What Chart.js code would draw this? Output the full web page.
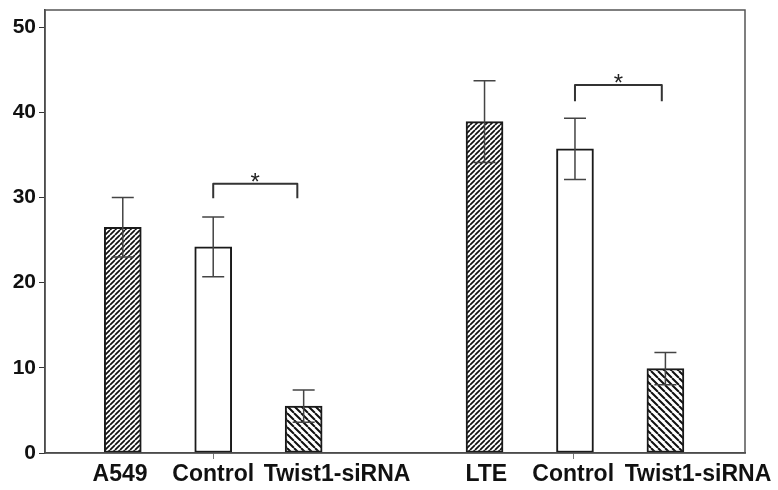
<!DOCTYPE html>
<html>
<head>
<meta charset="utf-8">
<script src="https://cdn.jsdelivr.net/npm/chart.js@4.4.1/dist/chart.umd.min.js"></script>
<style>
  html, body { margin: 0; padding: 0; background: #fff; }
  #wrap { width: 778px; height: 490px; }
</style>
</head>
<body>
<div id="wrap"><canvas id="chart" width="778" height="490"></canvas></div>
<script>
  // valores
  const barPos = [1, 2, 3, 5, 6, 7];
  const barValues = [26.5, 24.2, 5.5, 38.9, 35.7, 9.9];
  const barErrors = [3.5, 3.5, 1.9, 4.8, 3.6, 1.9];
  const barFill = ['dense', 'open', 'sparse', 'dense', 'open', 'sparse'];

  const xLabels = ['A549', 'Control', 'Twist1-siRNA', 'LTE', 'Control', 'Twist1-siRNA'];
  const xLabelPos = [0.97, 2, 3.37, 5.02, 5.98, 7.36];
  const yTicks = [0, 10, 20, 30, 40, 50];

  // colchetes de significância (coordenadas em unidades dos eixos)
  const brackets = [
    { from: 2, to: 2.93, top: 31.6, leg: 29.9, mark: '*' },
    { from: 6, to: 6.96, top: 43.2, leg: 41.3, mark: '*' }
  ];

  const FONT = '"Liberation Sans", Arial, sans-serif';

  function hatch(period, lw, dir) {
    const c = document.createElement('canvas');
    c.width = period; c.height = period;
    const g = c.getContext('2d');
    g.fillStyle = '#fff';
    g.fillRect(0, 0, period, period);
    g.strokeStyle = '#111';
    g.lineWidth = lw;
    g.beginPath();
    for (let k = -1; k <= 1; k++) {
      if (dir === '/') {
        g.moveTo(k * period, period);
        g.lineTo(k * period + period, 0);
      } else {
        g.moveTo(k * period, 0);
        g.lineTo(k * period + period, period);
      }
    }
    g.stroke();
    return g.createPattern(c, 'repeat');
  }

  const ctx = document.getElementById('chart').getContext('2d');
  const fills = {
    dense: hatch(5, 1.7, '/'),
    sparse: hatch(7, 2, '\\'),
    open: '#fff'
  };

  const overlay = {
    id: 'overlay',
    afterDatasetsDraw(chart) {
      const { ctx: c, chartArea: a, scales: { x, y } } = chart;
      c.save();
      // moldura
      c.strokeStyle = '#555';
      c.lineWidth = 1.5;
      c.strokeRect(a.left, a.top, a.right - a.left, a.bottom - a.top);

      // barras de erro
      c.strokeStyle = '#444';
      c.lineWidth = 1.5;
      barPos.forEach((p, i) => {
        const px = x.getPixelForValue(p);
        const yt = y.getPixelForValue(barValues[i] + barErrors[i]);
        const yb = y.getPixelForValue(barValues[i] - barErrors[i]);
        c.beginPath();
        c.moveTo(px, yt); c.lineTo(px, yb);
        c.moveTo(px - 11, yt); c.lineTo(px + 11, yt);
        c.moveTo(px - 11, yb); c.lineTo(px + 11, yb);
        c.stroke();
      });

      // colchetes
      c.strokeStyle = '#333';
      c.lineWidth = 2;
      c.lineJoin = 'round';
      c.fillStyle = '#222';
      c.font = '24px ' + FONT;
      c.textAlign = 'center';
      c.textBaseline = 'alphabetic';
      brackets.forEach(b => {
        const x1 = x.getPixelForValue(b.from), x2 = x.getPixelForValue(b.to);
        const yt = y.getPixelForValue(b.top), yl = y.getPixelForValue(b.leg);
        c.beginPath();
        c.moveTo(x1, yl); c.lineTo(x1, yt); c.lineTo(x2, yt); c.lineTo(x2, yl);
        c.stroke();
        c.fillText(b.mark, (x1 + x2) / 2, yt + 6);
      });
      c.restore();
    }
  };

  new Chart(ctx, {
    type: 'bar',
    data: {
      datasets: [{
        data: barPos.map((p, i) => ({ x: p, y: barValues[i] })),
        backgroundColor: barFill.map(f => fills[f]),
        borderColor: '#1a1a1a',
        borderWidth: 2,
        borderSkipped: false,
        barThickness: 37
      }]
    },
    options: {
      responsive: false,
      animation: false,
      events: [],
      layout: { padding: { top: 10, right: 33, left: 0, bottom: 0 } },
      plugins: { legend: { display: false }, tooltip: { enabled: false } },
      scales: {
        x: {
          type: 'linear',
          offset: false,
          min: 0.14,
          max: 7.88,
          afterBuildTicks: s => { s.ticks = xLabelPos.map(v => ({ value: v })); },
          afterFit: s => { s.height = 37; },
          border: { display: true, color: '#333', width: 1.5 },
          grid: {
            offset: false,
            drawOnChartArea: false,
            tickLength: 6,
            tickColor: c => (xLabels[c.index] === 'Control' ? '#777' : 'rgba(0,0,0,0)')
          },
          ticks: {
            autoSkip: false,
            maxRotation: 0,
            padding: 2,
            color: '#111',
            font: { family: FONT, size: 23, weight: 'bold' },
            callback: (v, i) => xLabels[i]
          }
        },
        y: {
          min: 0,
          max: 52,
          afterBuildTicks: s => { s.ticks = yTicks.map(v => ({ value: v })); },
          afterFit: s => { s.width = 45; s.paddingTop = 0; s.paddingBottom = 0; },
          border: { display: true, color: '#333', width: 1.5 },
          grid: { drawOnChartArea: false, tickLength: 6, tickColor: '#333' },
          ticks: {
            padding: 3,
            color: '#111',
            font: { family: FONT, size: 21, weight: 'bold' }
          }
        }
      }
    },
    plugins: [overlay]
  });
</script>
</body>
</html>
